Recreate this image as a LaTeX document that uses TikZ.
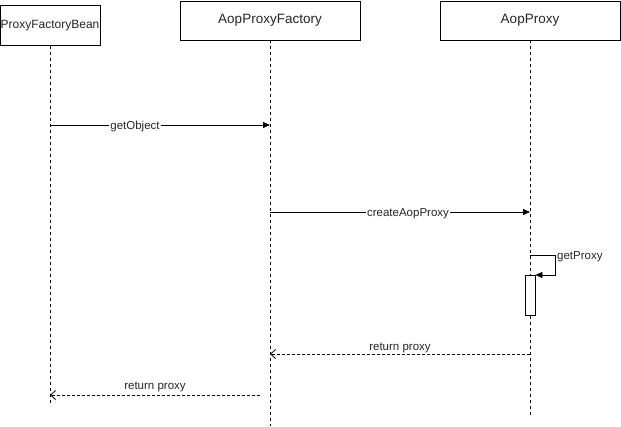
\documentclass[tikz,border=0pt]{standalone}
\usepackage{fontspec}
\setmainfont{Liberation Sans}
\usetikzlibrary{arrows.meta}
\begin{document}
\begin{tikzpicture}[x=1pt,y=-1pt,
  actor/.style={draw=black,fill=white,line width=0.8pt,minimum height=39pt,inner sep=0pt,font=\fontsize{13.5}{15}\selectfont,text=black!85},
  lifeline/.style={draw=black,line width=0.8pt,dash pattern=on 3pt off 3pt},
  call/.style={draw=black,line width=0.8pt,-{Triangle[length=7pt,width=6pt]}},
  reply/.style={draw=black,line width=0.8pt,dash pattern=on 3pt off 2pt,-{Straight Barb[length=5pt,width=9pt]}},
  msg/.style={font=\fontsize{11.5}{13}\selectfont,text=black!85,inner sep=1pt},
  onlinemsg/.style={msg,fill=white},
  actbox/.style={draw=black,fill=white,line width=0.8pt,minimum width=10pt,minimum height=40pt,inner sep=0pt}]
\useasboundingbox (0,0) rectangle (621,426);
% actors
\node[actor,minimum width=100pt,minimum height=40pt,font=\fontsize{12}{14}\selectfont] (pfb) at (50,25.5) {ProxyFactoryBean};
\node[actor,minimum width=180pt] (apf) at (270,20.5) {AopProxyFactory};
\node[actor,minimum width=180pt] (ap) at (530,20.5) {AopProxy};
% lifeline ends
\coordinate (pfbend) at (50,405);
\coordinate (apfend) at (270,426);
\coordinate (apend) at (530,415);
\draw[lifeline] (pfb.south) -- (pfbend);
\draw[lifeline] (apf.south) -- (apfend);
\draw[lifeline] (ap.south) -- (apend);
% activation
\node[actbox] (act) at (530,295) {};
% message points
\coordinate (m1s) at (50,125);
\coordinate (m1e) at (270,125);
\coordinate (m2s) at (270,212);
\coordinate (m2e) at (530,212);
\coordinate (m3s) at (530,255);
\coordinate (m3c1) at (555,255);
\coordinate (m3c2) at (555,275);
\coordinate (m4s) at (530,354);
\coordinate (m4e) at (270,354);
\coordinate (m5s) at (260,395);
\coordinate (m5e) at (50,395);
% messages
\draw[call] (m1s) -- (m1e);
\node[onlinemsg] (l1) at (135,126.5) {getObject};
\draw[call] (m2s) -- (m2e);
\node[onlinemsg] (l2) at (408,213.5) {createAopProxy};
\draw[call] (m3s) -- (m3c1) -- (m3c2) -- (act.north east |- m3c2);
\node[msg,anchor=west] (l3) at (556,256.5) {getProxy};
\draw[reply] (m4s) -- (m4e);
\node[msg] (l4) at (400,347.5) {return proxy};
\draw[reply] (m5s) -- (m5e);
\node[msg] (l5) at (155,386.5) {return proxy};
\end{tikzpicture}
\end{document}
